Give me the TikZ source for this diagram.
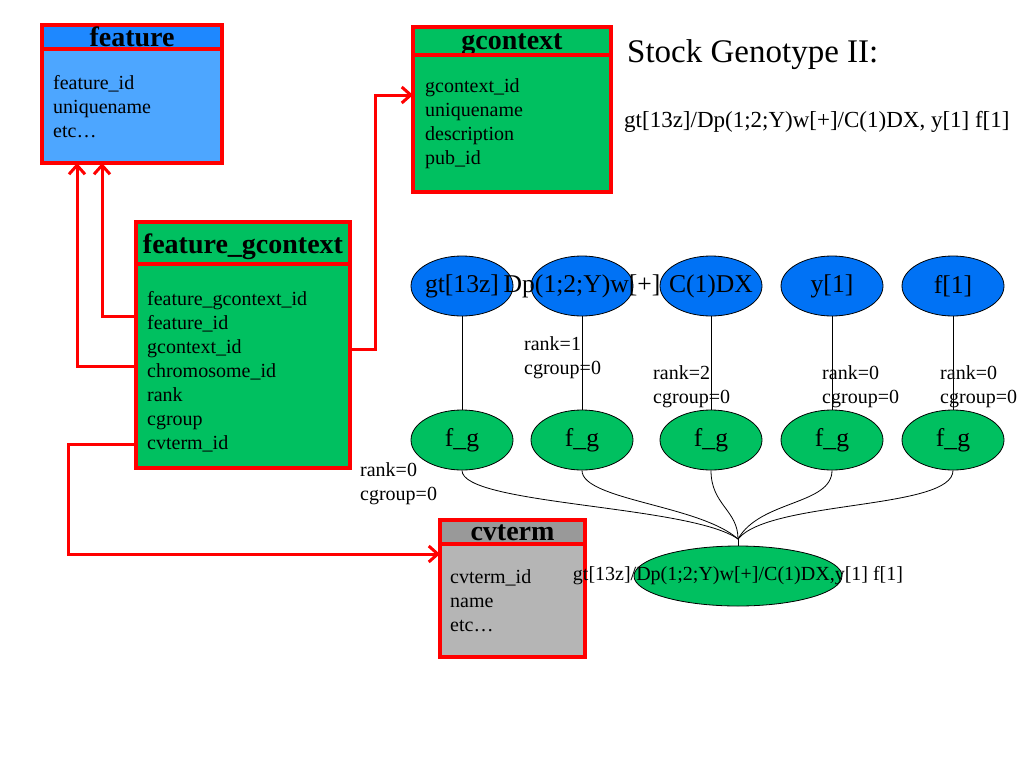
\documentclass[tikz,border=0pt]{standalone}
\usepackage{fontspec}
\setmainfont{Liberation Serif}
\usetikzlibrary{arrows.meta,shapes.geometric,calc}
\definecolor{fhead}{RGB}{30,136,255}
\definecolor{fbody}{RGB}{77,166,255}
\definecolor{tgreen}{RGB}{0,192,96}
\definecolor{ghead}{RGB}{153,153,153}
\definecolor{gbody}{RGB}{181,181,181}
\definecolor{eblue}{RGB}{0,114,245}
\begin{document}
\begin{tikzpicture}[x=1pt,y=-1pt,
 box/.style={draw=red, line width=3.5pt, rectangle, inner sep=0pt, outer sep=0pt, anchor=north west},
 headtxt/.style={font=\bfseries\fontsize{28}{32}\selectfont, inner sep=0pt, anchor=base},
 bodytxt/.style={font=\fontsize{20}{24}\selectfont, inner sep=0pt, anchor=north west, align=left},
 conn/.style={draw=red, line width=3pt, -{Straight Barb[length=9pt,width=16pt]}},
 ell/.style={ellipse, draw=black, line width=0.8pt, minimum width=102pt, minimum height=60pt, inner sep=0pt},
 elltxt/.style={font=\fontsize{25.6}{30}\selectfont, inner sep=0pt},
 note/.style={font=\fontsize{20}{24}\selectfont, inner sep=0pt, anchor=north west, align=left},
 thinline/.style={draw=black, line width=0.8pt},
]
\useasboundingbox (0,0) rectangle (1024,768);
\fill[white] (0,0) rectangle (1024,768);

% feature table
\node[box, fill=fhead, minimum width=180pt, minimum height=24pt] (fh) at (42,25) {};
\node[headtxt] (fht) at (132,47) {feature};
\node[box, fill=fbody, minimum width=180pt, minimum height=114pt] (fb) at (42,49) {};
\node[bodytxt] (fbt) at (53,72.2) {\strut feature\_id\\uniquename\\etc…};

% gcontext table
\node[box, fill=tgreen, minimum width=198pt, minimum height=28pt] (gh) at (413,27) {};
\node[headtxt] (ght) at (512,49) {gcontext};
\node[box, fill=tgreen, minimum width=198pt, minimum height=137pt] (gb) at (413,55) {};
\node[bodytxt] (gbt) at (425,75.2) {\strut gcontext\_id\\uniquename\\description\\pub\_id};

% feature_gcontext table
\node[box, fill=tgreen, minimum width=214pt, minimum height=42pt] (fgh) at (136,222) {};
\node[headtxt] (fght) at (243,253) {feature\_gcontext};
\node[box, fill=tgreen, minimum width=214pt, minimum height=204pt] (fgb) at (136,264) {};
\node[bodytxt] (fgbt) at (147,288.2) {\strut feature\_gcontext\_id\\feature\_id\\gcontext\_id\\chromosome\_id\\rank\\cgroup\\cvterm\_id};

% cvterm table
\node[box, fill=ghead, minimum width=145pt, minimum height=24pt] (ch) at (440,520) {};
\node[headtxt] (cht) at (512.5,540) {cvterm};
\node[box, fill=gbody, minimum width=145pt, minimum height=113pt] (cb) at (440,544) {};
\node[bodytxt] (cbt) at (450,566.2) {\strut cvterm\_id\\name\\etc…};

% red connectors
\draw[conn] (fgb.west |- 0,366) -| ($(fb.south west)+(35,0)$);
\draw[conn] (fgb.west |- 0,316) -| ($(fb.south west)+(60,0)$);
\draw[conn] (fgb.east |- 0,349) -- (375,349) |- (gb.west |- 0,95);
\draw[conn] (fgb.west |- 0,444) -- (68,444) |- (cb.west |- 0,554);

% titles
\node[font=\fontsize{33}{40}\selectfont, inner sep=0pt, anchor=base west] (title) at (627,63) {Stock Genotype II:};
\node[font=\fontsize{23}{28}\selectfont, inner sep=0pt, anchor=base west] (geno) at (624,127) {gt[13z]/Dp(1;2;Y)w[+]/C(1)DX, y[1] f[1]};

% ellipses
\foreach \i/\x in {1/462,2/582,3/711,4/832,5/953}{
  \node[ell, fill=eblue] (e\i) at (\x,286) {};
  \node[ell, fill=tgreen] (f\i) at (\x,440) {};
}
\node[ell, fill=tgreen, minimum width=208pt] (big) at (738,576) {};

% vertical lines
\foreach \i in {1,...,5}{
  \draw[thinline] (e\i.south) -- (f\i.north);
}

% curves
\coordinate (m) at (738,539);
\draw[thinline] (f1.south) .. controls (462,505) and (690,505) .. (m);
\draw[thinline] (f2.south) .. controls (582,500) and (700,505) .. (m);
\draw[thinline] (f3.south) .. controls (711,505) and (738,510) .. (m);
\draw[thinline] (f4.south) .. controls (832,505) and (760,500) .. (m);
\draw[thinline] (f5.south) .. controls (953,510) and (770,500) .. (m);
\draw[thinline] (m) -- (big.north);

% ellipse labels
\node[elltxt] (l1) at (e1) {gt[13z]};
\node[elltxt] (l2) at (e2) {Dp(1;2;Y)w[+]};
\node[elltxt] (l3) at (e3) {C(1)DX};
\node[elltxt] (l4) at (e4) {y[1]};
\node[elltxt] (l5) at (e5) {f[1]};
\foreach \i in {1,...,5}{
  \node[elltxt] (g\i) at (f\i) {f\_g};
}
\node[font=\fontsize{20}{24}\selectfont, inner sep=0pt] (bigl) at (big) {gt[13z]/Dp(1;2;Y)w[+]/C(1)DX,y[1] f[1]};

% rank notes
\node[note] (n2) at (524,333.2) {\strut rank=1\\cgroup=0};
\node[note] (n3) at (653,362.2) {\strut rank=2\\cgroup=0};
\node[note] (n4) at (822,362.2) {\strut rank=0\\cgroup=0};
\node[note] (n5) at (940,362.2) {\strut rank=0\\cgroup=0};
\node[note] (n1) at (360,459.2) {\strut rank=0\\cgroup=0};
\end{tikzpicture}
\end{document}
